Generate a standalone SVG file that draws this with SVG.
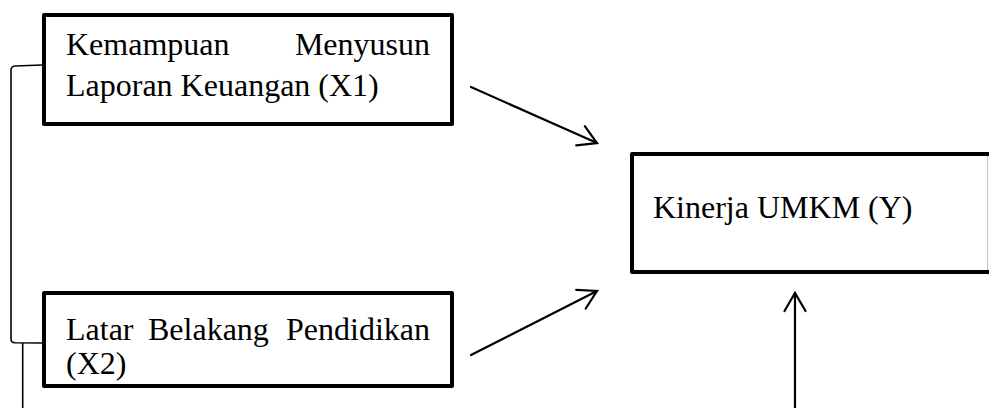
<svg xmlns="http://www.w3.org/2000/svg" width="989" height="408" viewBox="0 0 989 408">
  <style>
    .box { fill: #ffffff; stroke: #000000; stroke-width: 4; stroke-linejoin: round; }
    .t { font-family: "Liberation Serif", "Times New Roman", serif; font-size: 32px; fill: #000000; }
    .conn { fill: none; stroke: #000000; stroke-width: 2.2; stroke-linecap: round; }
    .thin { fill: none; stroke: #000000; stroke-width: 1.6; stroke-linecap: butt; }
  </style>
  <defs>
    <marker id="open" viewBox="0 0 24 24" markerWidth="24" markerHeight="24" refX="20" refY="12" orient="auto" markerUnits="userSpaceOnUse" overflow="visible">
      <path d="M2,1.5 L20,12 L2,22.5" fill="none" stroke="#000000" stroke-width="2.2" stroke-linecap="round" stroke-linejoin="miter"/>
    </marker>
  </defs>
  <rect width="989" height="408" fill="#ffffff"/>

  <g id="connectors">
    <path class="thin" d="M42,65 L15,66 Q11,66.5 11,70 L11,339 Q11,342.5 15,342.8 L42,343"/>
    <path class="thin" d="M22.7,343 L22.7,408"/>
    <line class="conn" x1="471" y1="87" x2="597" y2="143" marker-end="url(#open)"/>
    <line class="conn" x1="471" y1="355" x2="597" y2="291" marker-end="url(#open)"/>
    <line class="conn" x1="795" y1="408" x2="795" y2="293" marker-end="url(#open)"/>
  </g>

  <g id="node-x1">
    <rect class="box" x="44" y="15" width="408" height="109"/>
    <text class="t" x="66" y="55">Kemampuan</text>
    <text class="t" x="430" y="55" text-anchor="end">Menyusun</text>
    <text class="t" x="66" y="96">Laporan Keuangan (X1)</text>
  </g>

  <g id="node-x2">
    <rect class="box" x="44" y="293" width="408" height="93"/>
    <text class="t" x="66" y="340">Latar</text>
    <text class="t" x="148" y="340">Belakang</text>
    <text class="t" x="430" y="340" text-anchor="end">Pendidikan</text>
    <text class="t" x="66" y="374">(X2)</text>
  </g>

  <g id="node-y">
    <rect class="box" x="632" y="154" width="370" height="118"/>
    <line x1="987.5" y1="156" x2="987.5" y2="270" stroke="#c4c4c4" stroke-width="1"/>
    <text class="t" x="653" y="218">Kinerja UMKM (Y)</text>
  </g>
</svg>
